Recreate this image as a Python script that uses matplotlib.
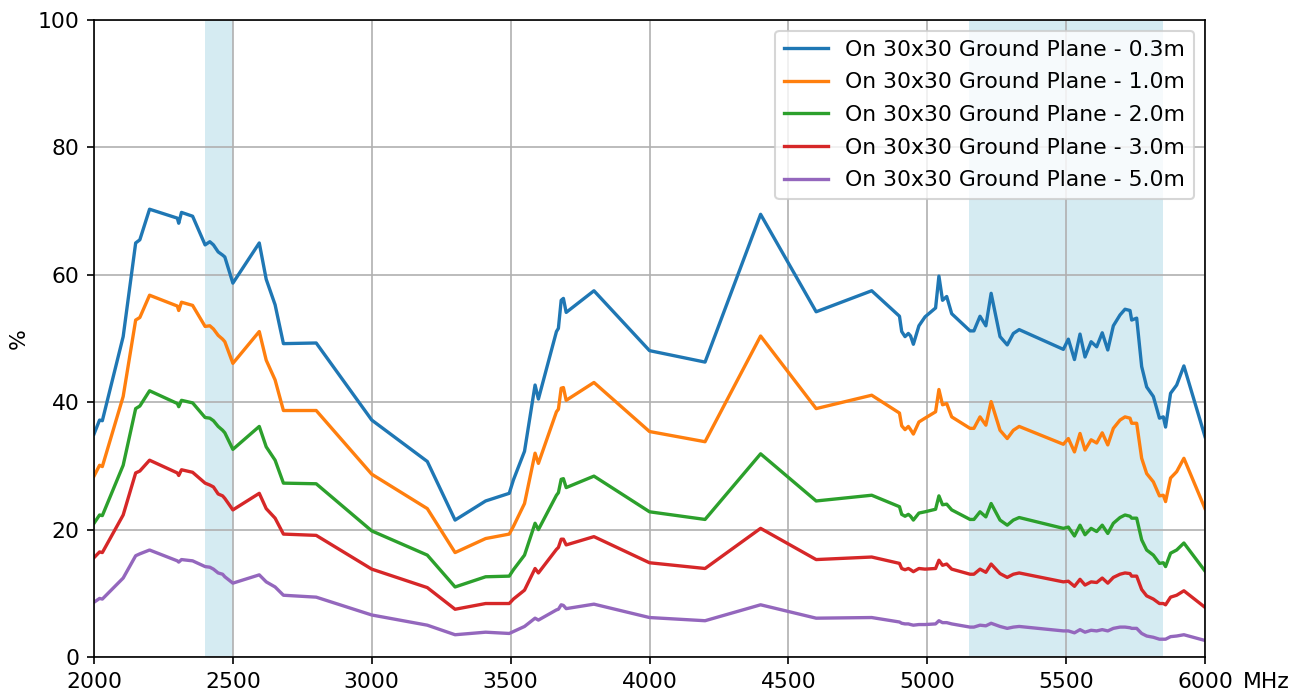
import matplotlib
matplotlib.use('Agg')
import matplotlib.pyplot as plt


plt.rcParams['font.size']       = 10.5
plt.rcParams['lines.linewidth'] = 1.6


# frequency points in MHz, shared by every height
freq = [
    2000, 2020, 2030, 2105, 2150, 2165, 2200, 2300, 2305, 2315,
    2355, 2400, 2417, 2430, 2447, 2463, 2471, 2500, 2595, 2620,
    2652, 2682, 2800, 3000, 3200, 3300, 3410, 3495, 3510, 3550,
    3588, 3600, 3665, 3672, 3682, 3690, 3700, 3800, 4000, 4200,
    4400, 4600, 4800, 4900, 4908, 4920, 4932, 4940, 4950, 4970,
    4992, 5030, 5042, 5055, 5070, 5088, 5154, 5168, 5190, 5211,
    5230, 5262, 5288, 5310, 5331, 5490, 5508, 5530, 5550, 5568,
    5590, 5610, 5630, 5650, 5670, 5694, 5712, 5730, 5736, 5754,
    5772, 5790, 5814, 5836, 5850, 5858, 5876, 5898, 5924, 6000,
]

h_03 = [
    35.0, 37.2, 37.1, 50.3, 65.0, 65.5, 70.3, 68.9, 68.1, 69.8,
    69.2, 64.7, 65.2, 64.7, 63.6, 63.1, 62.8, 58.7, 65.0, 59.3,
    55.3, 49.2, 49.3, 37.2, 30.7, 21.5, 24.5, 25.7, 27.8, 32.3,
    42.7, 40.5, 51.1, 51.6, 56.0, 56.3, 54.1, 57.5, 48.1, 46.3,
    69.5, 54.2, 57.5, 53.5, 51.1, 50.3, 50.8, 50.4, 49.1, 52.0,
    53.4, 54.8, 59.8, 56.0, 56.6, 53.9, 51.2, 51.2, 53.5, 52.0,
    57.1, 50.3, 49.0, 50.8, 51.4, 48.3, 49.9, 46.7, 50.7, 47.1,
    49.5, 48.7, 50.9, 48.2, 52.0, 53.7, 54.6, 54.4, 52.9, 53.2,
    45.6, 42.4, 40.9, 37.5, 37.7, 36.1, 41.4, 42.7, 45.7, 34.6,
]

h_10 = [
    28.4, 30.1, 29.9, 40.9, 52.9, 53.3, 56.8, 55.1, 54.4, 55.7,
    55.2, 51.9, 52.0, 51.5, 50.5, 49.9, 49.5, 46.1, 51.1, 46.6,
    43.5, 38.7, 38.7, 28.7, 23.3, 16.4, 18.6, 19.3, 20.5, 24.1,
    32.0, 30.4, 38.5, 38.9, 42.2, 42.3, 40.3, 43.1, 35.4, 33.8,
    50.4, 39.0, 41.1, 38.3, 36.3, 35.7, 36.2, 35.7, 35.0, 36.9,
    37.5, 38.5, 42.0, 39.6, 39.8, 37.7, 35.9, 35.9, 37.7, 36.4,
    40.1, 35.6, 34.3, 35.6, 36.2, 33.4, 34.3, 32.2, 35.1, 32.5,
    34.1, 33.6, 35.2, 33.3, 35.9, 37.2, 37.7, 37.5, 36.7, 36.7,
    31.2, 28.8, 27.5, 25.3, 25.4, 24.4, 28.1, 29.1, 31.2, 23.3,
]

h_20 = [
    21.0, 22.3, 22.2, 30.1, 39.0, 39.4, 41.8, 39.8, 39.3, 40.3,
    39.9, 37.6, 37.5, 37.1, 36.2, 35.6, 35.2, 32.6, 36.2, 33.0,
    30.9, 27.3, 27.2, 19.8, 16.0, 11.0, 12.6, 12.7, 13.7, 16.0,
    21.0, 20.0, 25.4, 25.8, 27.9, 28.0, 26.6, 28.4, 22.8, 21.6,
    31.9, 24.5, 25.4, 23.6, 22.4, 22.1, 22.4, 22.1, 21.5, 22.6,
    22.8, 23.2, 25.3, 23.9, 24.0, 23.1, 21.6, 21.6, 22.8, 22.0,
    24.1, 21.5, 20.7, 21.5, 21.9, 20.2, 20.4, 19.0, 20.7, 19.2,
    20.2, 19.7, 20.7, 19.4, 21.0, 21.9, 22.3, 22.1, 21.8, 21.8,
    18.4, 16.8, 16.0, 14.7, 14.8, 14.2, 16.3, 16.8, 17.9, 13.5,
]

h_30 = [
    15.6, 16.5, 16.4, 22.3, 28.9, 29.2, 30.9, 28.9, 28.5, 29.4,
    29.0, 27.3, 27.0, 26.7, 25.6, 25.3, 24.9, 23.1, 25.7, 23.3,
    21.8, 19.3, 19.1, 13.8, 10.9, 7.5, 8.4, 8.4, 9.1, 10.5,
    13.9, 13.2, 16.9, 17.2, 18.5, 18.5, 17.6, 18.9, 14.8, 13.9,
    20.2, 15.3, 15.7, 14.7, 13.9, 13.7, 13.9, 13.7, 13.4, 13.9,
    13.8, 13.9, 15.2, 14.4, 14.6, 13.8, 13.0, 13.0, 13.8, 13.3,
    14.6, 13.1, 12.5, 13.0, 13.2, 11.8, 11.9, 11.1, 12.2, 11.3,
    11.8, 11.7, 12.4, 11.6, 12.5, 13.0, 13.2, 13.1, 12.7, 12.7,
    10.6, 9.6, 9.1, 8.4, 8.4, 8.2, 9.4, 9.7, 10.4, 7.8,
]

h_50 = [
    8.6, 9.2, 9.1, 12.4, 15.9, 16.2, 16.8, 15.1, 14.9, 15.3,
    15.1, 14.2, 14.1, 13.8, 13.2, 13.0, 12.6, 11.6, 12.9, 11.8,
    11.0, 9.7, 9.4, 6.6, 5.0, 3.5, 3.9, 3.7, 4.0, 4.8,
    6.1, 5.8, 7.4, 7.5, 8.2, 8.1, 7.6, 8.3, 6.2, 5.7,
    8.2, 6.1, 6.2, 5.5, 5.3, 5.2, 5.2, 5.1, 5.0, 5.1,
    5.1, 5.2, 5.7, 5.4, 5.4, 5.2, 4.7, 4.7, 5.0, 4.9,
    5.3, 4.8, 4.5, 4.7, 4.8, 4.1, 4.1, 3.8, 4.3, 3.9,
    4.2, 4.1, 4.3, 4.1, 4.5, 4.7, 4.7, 4.6, 4.5, 4.5,
    3.7, 3.3, 3.1, 2.8, 2.8, 2.8, 3.2, 3.3, 3.5, 2.6,
]

heights = ['0.3m', '1.0m', '2.0m', '3.0m', '5.0m']
series  = [h_03, h_10, h_20, h_30, h_50]

# Wi-Fi bands
bands = [(2400, 2500), (5150, 5850)]

x_ticks = [2000, 2500, 3000, 3500, 4000, 4500, 5000, 5500, 6000]
y_ticks = [0, 20, 40, 60, 80, 100]


def plot():
    fig = plt.figure(figsize=(1302/150, 693/150), dpi=150)
    ax = fig.add_axes([0.0722, 0.0519, 0.8533, 0.9192])

    for lo, hi in bands:
        ax.axvspan(lo, hi, color='lightblue', alpha=0.5, lw=0)

    for h, Y in zip(heights, series):
        ax.plot(freq, Y, label=f'On 30x30 Ground Plane - {h}')

    ax.set_xlim(2000, 6000)
    ax.set_ylim(0, 100)
    ax.set_xticks(x_ticks)
    ax.set_yticks(y_ticks)
    ax.grid(True)
    ax.set_ylabel('%')
    # unit sits on the same line as the tick labels, right of the last one
    ax.annotate('MHz', xy=(1, 0), xycoords='axes fraction',
                xytext=(18, -7), textcoords='offset points',
                ha='left', va='top')
    ax.legend(loc='upper right', labelspacing=0.58)

    fig.savefig('out.png', dpi=150)


plot()
